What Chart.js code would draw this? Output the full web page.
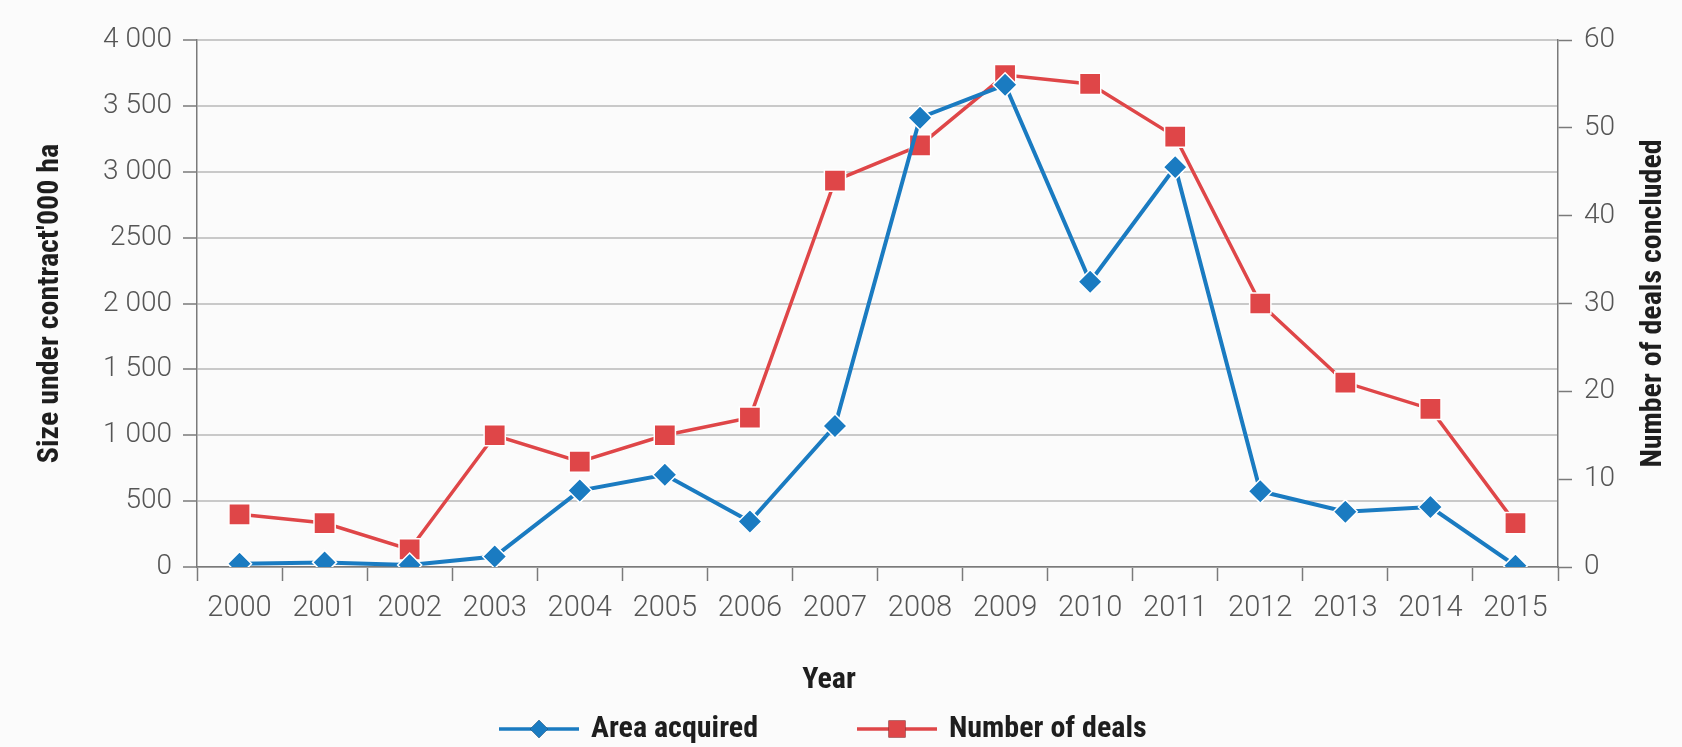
<!DOCTYPE html>
<html lang="en">
<head>
<meta charset="UTF-8">
<title>Area acquired and number of deals, 2000-2015</title>
<script src="https://cdn.jsdelivr.net/npm/chart.js@4.4.1/dist/chart.umd.min.js"></script>
<style>
  html, body { margin: 0; padding: 0; background: #fbfbfb; }
  #chart { display: block; }
</style>
</head>
<body>
<canvas id="chart" width="1682" height="747"></canvas>
<script>
const years = ['2000', '2001', '2002', '2003', '2004', '2005', '2006', '2007',
               '2008', '2009', '2010', '2011', '2012', '2013', '2014', '2015'];
// size under contract, '000 ha (left axis)
const areaAcquired = [25, 35, 15, 80, 580, 700, 345, 1070, 3410, 3660, 2165, 3035, 575, 420, 455, 10];
// number of deals concluded (right axis)
const numberOfDeals = [6, 5, 2, 15, 12, 15, 17, 44, 48, 56, 55, 49, 30, 21, 18, 5];
const leftTickLabels = ['0', '500', '1 000', '1 500', '2 000', '2500', '3 000', '3 500', '4 000'];
const rightTickLabels = ['0', '10', '20', '30', '40', '50', '60'];

const blue = '#1a7bc1';
const red = '#df4648';
const axisGrey = '#7a7a7a';
const tickFont = { family: 'Roboto', weight: '300', size: 28 };
const xTickFont = { family: 'Roboto', weight: '300', size: 29 };
const boldFamily = "'Liberation Sans Narrow', 'Roboto Condensed', Roboto, sans-serif";
const titleFont = { family: boldFamily, weight: 'bold', size: 30 };

// legend + x title + right title (drawn so the right title reads upward like the left one)
const extraText = {
  id: 'extraText',
  afterDraw(chart) {
    const ctx = chart.ctx;
    const area = chart.chartArea;
    ctx.save();
    ctx.fillStyle = '#1e1e1e';
    ctx.font = 'bold 30px ' + boldFamily;
    ctx.textBaseline = 'middle';

    ctx.save();
    ctx.translate(1653, (area.top + area.bottom) / 2);
    ctx.rotate(-Math.PI / 2);
    ctx.textAlign = 'center';
    ctx.fillText('Number of deals concluded', 0, 0);
    ctx.restore();

    ctx.textAlign = 'center';
    ctx.fillText('Year', 829, 680);

    const items = [
      { text: 'Area acquired', color: blue, style: 'rectRot', radius: 9, x: 499 },
      { text: 'Number of deals', color: red, style: 'rect', radius: 12, x: 857 }
    ];
    const y = 729;
    items.forEach(it => {
      ctx.strokeStyle = it.color;
      ctx.lineWidth = 3.5;
      ctx.beginPath();
      ctx.moveTo(it.x, y);
      ctx.lineTo(it.x + 80, y);
      ctx.stroke();
      Chart.helpers.drawPoint(ctx, {
        pointStyle: it.style, radius: it.radius, rotation: 0, borderWidth: 0
      }, it.x + 40, y);
      ctx.fillStyle = it.color;
      ctx.fill();
      ctx.fillStyle = '#1e1e1e';
      ctx.textAlign = 'left';
      ctx.fillText(it.text, it.x + 92, y);
    });
    ctx.restore();
  }
};

new Chart('chart', {
  type: 'line',
  data: {
    labels: years,
    datasets: [{
      label: 'Area acquired',
      data: areaAcquired,
      yAxisID: 'y',
      borderColor: blue,
      backgroundColor: blue,
      borderWidth: 4,
      pointStyle: 'rectRot',
      pointRadius: 12,
      pointBorderColor: '#ffffff',
      pointBorderWidth: 1.5,
      tension: 0
    }, {
      label: 'Number of deals',
      data: numberOfDeals,
      yAxisID: 'y1',
      borderColor: red,
      backgroundColor: red,
      borderWidth: 3.5,
      pointStyle: 'rect',
      pointRadius: 15,
      pointBorderColor: '#ffffff',
      pointBorderWidth: 1.5,
      tension: 0
    }]
  },
  options: {
    responsive: false,
    animation: false,
    layout: { padding: { top: 40, left: 0, right: 0, bottom: 0 } },
    plugins: {
      legend: { display: false },
      tooltip: { enabled: false }
    },
    scales: {
      x: {
        offset: true,
        grid: { display: true, offset: true, drawOnChartArea: false, tickLength: 14, tickColor: axisGrey, tickWidth: 1.5 },
        border: { color: axisGrey, width: 1.5 },
        ticks: { font: xTickFont, color: '#555', padding: 10, maxRotation: 0, autoSkip: false },
        afterFit(scale) { scale.height = 180; }
      },
      y: {
        position: 'left',
        min: 0,
        max: 4000,
        ticks: {
          stepSize: 500, font: tickFont, color: '#555', padding: 11,
          callback: (v, i) => leftTickLabels[i]
        },
        grid: { color: '#c9c9c9', lineWidth: 2, tickLength: 14, tickColor: axisGrey, tickWidth: 1.5 },
        border: { color: axisGrey, width: 1.5 },
        title: {
          display: true,
          text: "Size under contract'000 ha",
          color: '#1e1e1e',
          font: titleFont,
          padding: { top: 32, bottom: 0 }
        },
        afterFit(scale) { scale.width = 197; }
      },
      y1: {
        position: 'right',
        min: 0,
        max: 60,
        ticks: {
          stepSize: 10, font: tickFont, color: '#555', padding: 12,
          callback: (v, i) => rightTickLabels[i]
        },
        grid: { drawOnChartArea: false, tickLength: 14, tickColor: axisGrey, tickWidth: 1.5 },
        border: { color: axisGrey, width: 1.5 },
        afterFit(scale) { scale.width = 124; }
      }
    }
  },
  plugins: [extraText]
});
</script>
</body>
</html>
